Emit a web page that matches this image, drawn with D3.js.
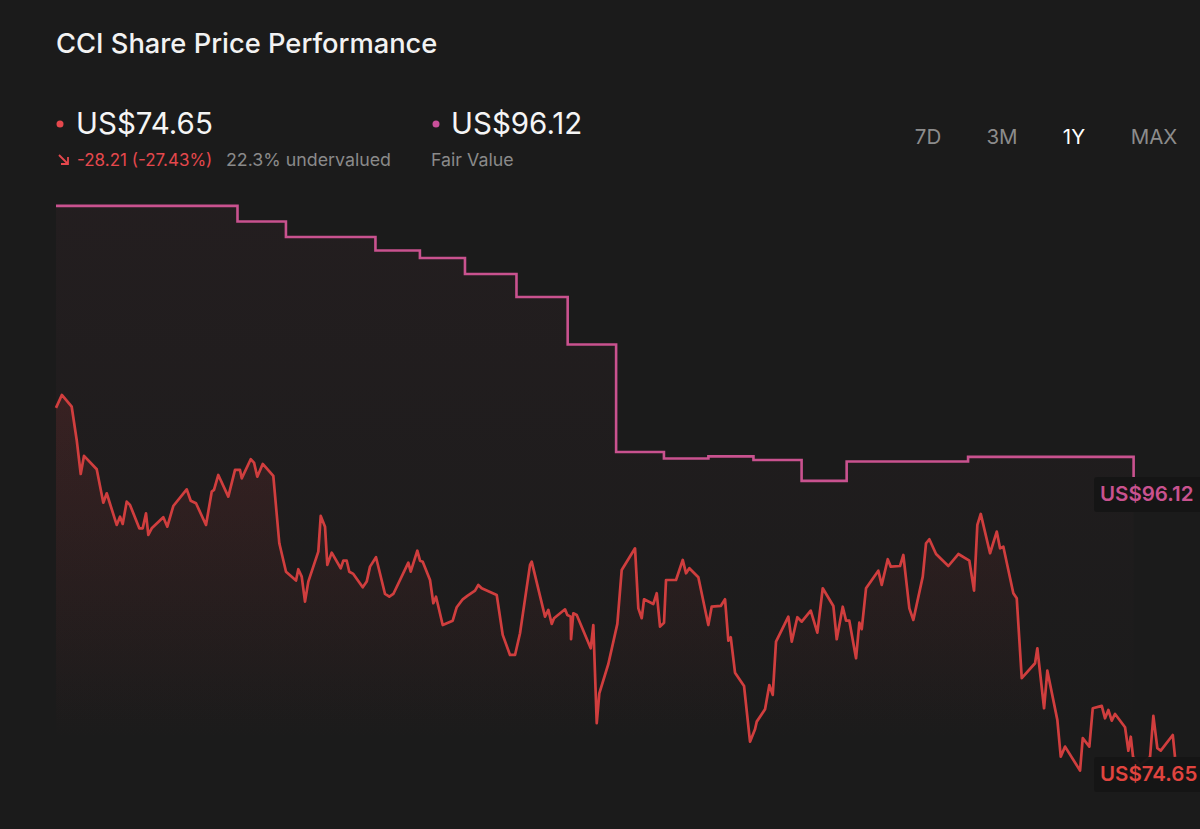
<!DOCTYPE html>
<html>
<head>
<meta charset="utf-8">
<script src="https://cdn.jsdelivr.net/npm/d3@7"></script>
<style>
  html, body { margin: 0; padding: 0; background: #1b1b1b; }
  svg { display: block; }
  text { font-family: Inter, "Noto Sans", sans-serif; }
</style>
</head>
<body>
<svg id="chart" width="1200" height="829"></svg>
<script>
// ---- Data (day offset within the 1Y window, price in US$) ----
const priceDays = [0,1.9,5.12,6.75,8.06,9.13,13.28,15.43,16.54,19.8,20.88,21.76,23.06,24.14,27.17,28.28,29.36,30.11,31.22,35,36.31,38.26,42.63,43.94,45.67,48.93,50.79,51.54,52.94,56.2,58.39,60.02,60.58,63.51,64.59,65.66,67.43,70.88,72.84,75.03,78.29,79.04,80.15,81.22,82.3,85.56,86.35,87.75,88.5,89.93,92.87,93.72,94.83,95.67,96.98,100.05,101.35,102.43,104.38,107.32,108.72,110.03,114.92,115.7,117.86,118.74,119.62,122,123.08,123.96,126.14,129.4,130.71,132.67,134.17,136.68,137.75,138.86,143.76,145.71,148.09,149.73,151.36,154.62,155.17,159.51,160.59,161.7,162.45,166.04,166.79,167.9,168.0,168.74,169.85,174.42,175.27,176.38,177.22,180.16,183.1,184.53,188.87,189.95,191.06,191.81,194.84,195.95,197.02,198.33,198.98,202.24,204.43,205.51,206.58,209.52,212.78,213.89,216.82,218.23,219.3,220.09,221.49,224.43,226.38,228.01,228.57,231.28,232.68,233.79,234.86,238.88,239.99,241.81,243.25,246.18,248.34,250.1,253.56,254.66,256.62,257.7,258.77,260.96,262.04,262.82,264.22,268.23,269.34,271.3,272.28,275.31,276.39,278.35,279.65,282.72,283.79,284.87,287.06,291.07,294.33,297.92,299.45,300.53,301.64,304.67,306.86,307.93,309.01,312.27,313.38,315.01,319.35,320.1,322.29,323.36,326.62,327.73,329.14,334.03,334.91,337.06,338.17,341.11,342.18,343.26,344.37,345.45,348.71,349.78,350.57,351.32,353.6,356.86,357.94,359.24,360.35,364.27,365];
const priceValues = [102.86,103.91,102.96,100.27,97.52,98.98,97.9,95.2,95.96,93.4,94.07,93.48,95.28,95.02,93.13,93.13,94.34,92.59,93.13,94.02,93.26,94.93,96.28,95.36,95.15,93.4,96.09,96.23,97.44,95.69,97.85,97.85,97.17,98.71,98.44,97.3,98.33,97.36,91.92,89.62,88.9,89.82,89.22,87.2,88.82,91.24,94.13,93.26,90.17,91.16,89.9,90.51,90.51,89.62,89.44,88.36,88.82,90.03,90.79,87.82,87.6,87.82,90.35,89.62,91.32,90.51,90.43,88.95,87.07,87.6,85.31,85.66,86.75,87.39,87.66,88.09,88.55,88.28,87.74,84.51,82.89,82.89,84.64,90.17,90.43,85.99,86.53,85.4,85.86,86.58,86.12,85.99,84.16,86.26,86.12,83.43,85.31,77.37,79.79,82.16,85.4,89.76,91.51,86.66,85.86,87.39,87.01,87.88,85.18,85.5,88.95,88.95,90.57,89.49,89.9,89.17,85.31,86.8,86.85,87.39,84.05,84.32,81.46,80.38,75.88,76.88,77.5,78.5,80.46,79.66,83.97,85.99,83.97,85.94,85.58,86.47,84.69,88.28,86.85,84.16,86.79,85.66,85.66,82.62,85.5,84.97,88.28,89.7,88.55,90.63,90.03,90.08,90.97,86.66,85.72,89.22,91.92,92.24,91.05,90.08,91.05,90.51,88.09,93.4,94.29,91.11,92.86,91.51,91.64,87.88,87.47,81.01,82.22,83.43,78.58,81.62,77.64,74.67,75.48,73.54,76.16,75.48,78.58,78.77,77.77,78.44,77.58,78.12,77.05,75.15,76.28,74.64,74.0,74.64,77.96,75.35,75.15,76.42,74.65];

const fairDays = [0,59.2,75.0,104.2,118.7,133.4,150.2,166.9,182.7,198.3,212.8,227.5,243.2,257.9,297.5,351.5];
const fairValues = [119.19,117.93,116.68,115.59,114.98,113.69,111.83,107.99,99.30,98.77,98.94,98.65,96.96,98.53,98.90,97.28];

const ranges = ["7D","3M","1Y","MAX"];
const activeRange = "1Y";

const lastPrice = "US$74.65";
const fairValueText = "US$96.12";
const changeText = "-28.21 (-27.43%)";
const valuationText = "22.3% undervalued";

// ---- Setup ----
const svg = d3.select("#chart");
const RED = "#d03e3e", PINK = "#c9528f";

const x = d3.scaleLinear().domain([0, 365]).range([56, 1175]);
const y = d3.scaleLinear().domain([70, 110]).range([814.4, 319.6]);

const price = priceDays.map((d, i) => ({ d, v: priceValues[i] }));
const fair = fairDays.map((d, i) => ({ d, v: fairValues[i] }));

const defs = svg.append("defs");
const gP = defs.append("linearGradient").attr("id", "gPrice")
  .attr("gradientUnits", "userSpaceOnUse").attr("x1", 0).attr("x2", 0).attr("y1", y(104)).attr("y2", 740);
gP.append("stop").attr("offset", 0).attr("stop-color", "#c03a3a").attr("stop-opacity", 0.15);
gP.append("stop").attr("offset", 1).attr("stop-color", "#c03a3a").attr("stop-opacity", 0.0);
const gF = defs.append("linearGradient").attr("id", "gFair")
  .attr("gradientUnits", "userSpaceOnUse").attr("x1", 0).attr("x2", 0).attr("y1", y(119)).attr("y2", 740);
gF.append("stop").attr("offset", 0).attr("stop-color", "#b0506a").attr("stop-opacity", 0.055);
gF.append("stop").attr("offset", 1).attr("stop-color", "#b0506a").attr("stop-opacity", 0.0);

const bottomY = 740;

svg.append("path").datum(fair)
  .attr("d", d3.area().curve(d3.curveStepAfter).x(p => x(p.d)).y0(bottomY).y1(p => y(p.v)))
  .attr("fill", "url(#gFair)");
svg.append("path").datum(price)
  .attr("d", d3.area().x(p => x(p.d)).y0(bottomY).y1(p => y(p.v)))
  .attr("fill", "url(#gPrice)");

svg.append("path").datum(fair)
  .attr("d", d3.line().curve(d3.curveStepAfter).x(p => x(p.d)).y(p => y(p.v)))
  .attr("fill", "none").attr("stroke", PINK).attr("stroke-width", 2.6);

svg.append("path").datum(price)
  .attr("d", d3.line().x(p => x(p.d)).y(p => y(p.v)))
  .attr("fill", "none").attr("stroke", RED).attr("stroke-width", 2.7)
  .attr("stroke-linejoin", "round");

function endLabel(val, txt, color) {
  const cy = y(val) + 17;
  const g = svg.append("g");
  g.append("rect").attr("x", 1094).attr("y", cy - 17).attr("width", 110).attr("height", 35)
    .attr("rx", 3).attr("fill", "#151515").attr("opacity", 0.95);
  g.append("text").attr("x", 1100).attr("y", cy + 7).attr("fill", color)
    .attr("font-size", 20.5).attr("font-weight", 600).text(txt);
}
endLabel(fairValues[fairValues.length - 1], fairValueText, PINK);
endLabel(priceValues[priceValues.length - 1], lastPrice, "#e0443f");

// ---- Header ----
svg.append("text").attr("x", 56).attr("y", 53).attr("fill", "#f2f2f2")
  .attr("font-size", 27.3).attr("font-weight", 500).text("CCI Share Price Performance");

svg.append("circle").attr("cx", 60).attr("cy", 124).attr("r", 3.5).attr("fill", "#e5484d");
svg.append("text").attr("x", 76).attr("y", 134).attr("fill", "#f5f5f5")
  .attr("font-size", 29.5).attr("font-weight", 400).text(lastPrice);

svg.append("circle").attr("cx", 436).attr("cy", 124).attr("r", 3.5).attr("fill", "#c9509a");
svg.append("text").attr("x", 451).attr("y", 134).attr("fill", "#f5f5f5")
  .attr("font-size", 29.5).attr("font-weight", 400).text(fairValueText);

svg.append("path").attr("d", "M59,155 L68,164 M68,157 L68,164 L61,164")
  .attr("fill", "none").attr("stroke", "#e5484d").attr("stroke-width", 1.8);
svg.append("text").attr("x", 77).attr("y", 166).attr("fill", "#e5484d")
  .attr("font-size", 17).text(changeText);
svg.append("text").attr("x", 226).attr("y", 166).attr("fill", "#8a8a8a")
  .attr("font-size", 17.8).text(valuationText);
svg.append("text").attr("x", 431).attr("y", 166).attr("fill", "#8a8a8a")
  .attr("font-size", 17.8).text("Fair Value");

const btnX = { "7D": 928, "3M": 1002, "1Y": 1074, "MAX": 1154 };
svg.selectAll("text.rng").data(ranges).join("text").attr("class", "rng")
  .attr("x", d => btnX[d]).attr("y", 144).attr("text-anchor", "middle")
  .attr("font-size", 20.5)
  .attr("fill", d => d === activeRange ? "#ffffff" : "#8c8c8c")
  .text(d => d);
</script>
</body>
</html>
